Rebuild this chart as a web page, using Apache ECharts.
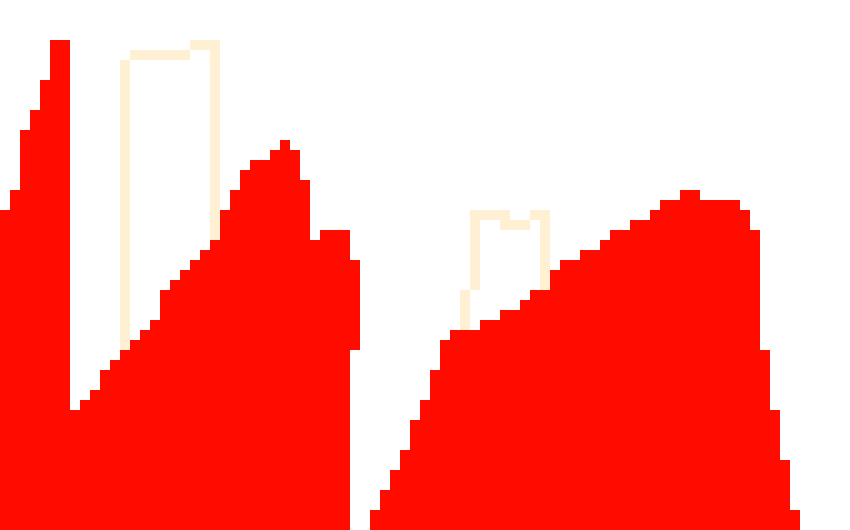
<!DOCTYPE html>
<html>
<head>
<meta charset="utf-8">
<script src="https://cdn.jsdelivr.net/npm/echarts@6/dist/echarts.min.js"></script>
<style>
html,body{margin:0;padding:0;background:#fff;}
#chart{width:850px;height:530px;}
</style>
</head>
<body>
<div id="chart"></div>
<script>
// Columns (each one cell wide), values in cell rows from the bottom
const columns = Array.from({length: 85}, (_, i) => String(i));

// Red area: bottom and top of each column
const redBottom = [
  0,0,0,0,0,0,0,0,0,0, 0,0,0,0,0,0,0,0,0,0,
  0,0,0,0,0,0,0,0,0,0, 0,0,0,0,0,18,0,0,0,0,
  0,0,0,0,0,0,0,0,0,0, 0,0,0,0,0,0,0,0,0,0,
  0,0,0,0,0,0,0,0,0,0, 0,0,0,0,0,0,0,0,0,0,
  0,0,0,0,0
];
const redTop = [
  32,34,40,42,45,49,49,12,13,14, 16,17,18,19,20,21,24,25,26,27,
  28,29,32,34,36,37,37,38,39,38, 35,29,30,30,30,27,0,2,4,6,
  8,11,13,16,19,20,20,20,21,21, 22,22,23,24,24,26,27,27,28,28,
  29,30,30,31,31,32,33,33,34,34, 33,33,33,33,32,30,18,12,7,2,
  0,0,0,0,0
];

// Cream outline: [column, bottom, top]
const creamCol    = [12, 13, 14, 15, 16, 17, 18, 19, 20, 21, 46, 47, 48, 49, 50, 51, 52, 53, 54];
const creamBottom = [18, 47, 47, 47, 47, 47, 47, 48, 48, 29, 20, 24, 31, 31, 30, 30, 30, 31, 24];
const creamTop    = [47, 48, 48, 48, 48, 48, 48, 49, 49, 49, 24, 32, 32, 32, 32, 31, 31, 32, 32];

const RED = '#ff0b00';
const CREAM = '#fff0d4';

// Build stacked segments
const base = [], red = [], gap = [], cream = [];
for (let i = 0; i < columns.length; i++) {
  base.push(redBottom[i]);
  red.push(redTop[i] - redBottom[i]);
  const k = creamCol.indexOf(i);
  if (k >= 0) {
    gap.push(creamBottom[k] - redTop[i]);
    cream.push(creamTop[k] - creamBottom[k]);
  } else {
    gap.push(0);
    cream.push(0);
  }
}

const chart = echarts.init(document.getElementById('chart'), null, {renderer: 'canvas'});
const common = {type: 'bar', stack: 'all', barWidth: '100%', barCategoryGap: 0, silent: true, animation: false};
chart.setOption({
  animation: false,
  backgroundColor: '#ffffff',
  grid: {left: 0, right: 0, top: 0, bottom: 0, containLabel: false},
  xAxis: {type: 'category', data: columns, show: false, boundaryGap: true},
  yAxis: {type: 'value', min: 0, max: 53, show: false},
  series: [
    Object.assign({name: 'base', data: base, itemStyle: {color: 'rgba(0,0,0,0)'}}, common),
    Object.assign({name: 'red', data: red, itemStyle: {color: RED}}, common),
    Object.assign({name: 'gap', data: gap, itemStyle: {color: 'rgba(0,0,0,0)'}}, common),
    Object.assign({name: 'cream', data: cream, itemStyle: {color: CREAM}}, common)
  ]
});
</script>
</body>
</html>
